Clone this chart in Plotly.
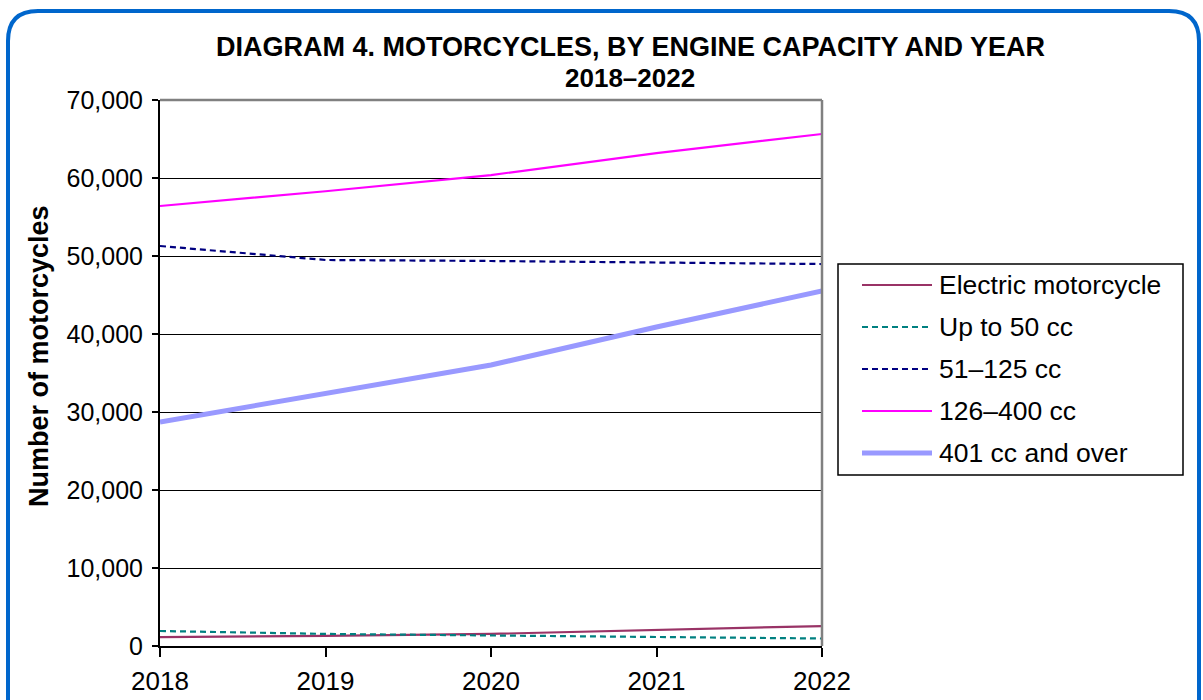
import plotly.graph_objects as go

years = [2018, 2019, 2020, 2021, 2022]
electric = [1150, 1300, 1550, 2050, 2560]
up_to_50 = [1920, 1550, 1350, 1150, 960]
cc_51_125 = [51280, 49490, 49360, 49200, 48970]
cc_126_400 = [56410, 58300, 60380, 63200, 65640]
cc_401_plus = [28720, 32300, 36030, 40900, 45510]

series_names = ["Electric motorcycle", "Up to 50 cc", "51\u2013125 cc", "126\u2013400 cc", "401 cc and over"]
series_values = [electric, up_to_50, cc_51_125, cc_126_400, cc_401_plus]
colors = ["#993366", "#008080", "#000080", "#FF00FF", "#9999FF"]
widths = [2.2, 2.2, 2.2, 2.2, 5]
dashes = ["solid", "6px,4px", "6px,4px", "solid", "solid"]

W, H = 1203, 700
L, R, T, B = 160, 822, 100, 646
FONT = "Liberation Sans, Arial, sans-serif"


def px(x):
    return (x - L) / (R - L)


def py(y):
    return (B - y) / (B - T)


fig = go.Figure()
for name, vals, c, w, d in zip(series_names, series_values, colors, widths, dashes):
    fig.add_trace(go.Scatter(x=years, y=vals, mode="lines", name=name,
                             line=dict(color=c, width=w, dash=d),
                             showlegend=False, hoverinfo="x+y+name"))

shapes = []
shapes.append(dict(type="line", xref="paper", yref="paper", x0=0, x1=1, y0=1, y1=1,
                   line=dict(color="#808080", width=2.5), layer="above"))
shapes.append(dict(type="line", xref="paper", yref="paper", x0=1, x1=1, y0=0, y1=1,
                   line=dict(color="#808080", width=2.5), layer="above"))

x0, y0, x1, y1, r = 8, 11, 1199, 740, 30
path = (f"M {px(x0)},{py(y0 + r)} "
        f"Q {px(x0)},{py(y0)} {px(x0 + r)},{py(y0)} "
        f"L {px(x1 - r)},{py(y0)} "
        f"Q {px(x1)},{py(y0)} {px(x1)},{py(y0 + r)} "
        f"L {px(x1)},{py(y1)} L {px(x0)},{py(y1)} Z")
shapes.append(dict(type="path", xref="paper", yref="paper", path=path,
                   line=dict(color="#0066CC", width=4), layer="above"))

lx0, lx1, ly0, ly1 = 838, 1183, 264, 475
shapes.append(dict(type="rect", xref="paper", yref="paper",
                   x0=px(lx0), x1=px(lx1), y0=py(ly1), y1=py(ly0),
                   line=dict(color="#000000", width=1.5), fillcolor="white", layer="above"))
annotations = []
item_y = [285, 327, 369, 411, 453]
for name, c, w, d, yy in zip(series_names, colors, widths, dashes, item_y):
    shapes.append(dict(type="line", xref="paper", yref="paper",
                       x0=px(862), x1=px(932), y0=py(yy), y1=py(yy),
                       line=dict(color=c, width=w, dash=d), layer="above"))
    annotations.append(dict(xref="paper", yref="paper", x=px(937), y=py(yy),
                            text=name, showarrow=False, xanchor="left", yanchor="middle",
                            font=dict(family=FONT, size=26.5, color="black")))

annotations.append(dict(xref="paper", yref="paper", x=px(630), y=py(47),
                        text="<b>DIAGRAM 4. MOTORCYCLES, BY ENGINE CAPACITY AND YEAR</b>",
                        showarrow=False, xanchor="center", yanchor="middle",
                        font=dict(family=FONT, size=27, color="black")))
annotations.append(dict(xref="paper", yref="paper", x=px(630), y=py(78),
                        text="<b>2018\u20132022</b>",
                        showarrow=False, xanchor="center", yanchor="middle",
                        font=dict(family=FONT, size=26, color="black")))
annotations.append(dict(xref="paper", yref="paper", x=px(39), y=py(356),
                        text="<b>Number of motorcycles</b>", textangle=-90,
                        showarrow=False, xanchor="center", yanchor="middle",
                        font=dict(family=FONT, size=27, color="black")))

fig.update_layout(
    width=W, height=H,
    margin=dict(l=L, r=W - R, t=T, b=H - B, pad=0),
    paper_bgcolor="white", plot_bgcolor="white",
    shapes=shapes, annotations=annotations,
    font=dict(family=FONT, color="black"),
    xaxis=dict(range=[2018, 2022], tickvals=years, ticktext=[str(y) for y in years],
               automargin=False,
               showgrid=False, zeroline=False, showline=True, linecolor="black", linewidth=2,
               ticks="outside", ticklen=9, tickwidth=2, tickcolor="black",
               ticklabelstandoff=2,
               tickfont=dict(size=26, family=FONT, color="black")),
    yaxis=dict(range=[0, 70000], tickvals=list(range(0, 70001, 10000)), tickformat=",d",
               automargin=False,
               showgrid=True, gridcolor="black", gridwidth=1, zeroline=False,
               showline=True, linecolor="black", linewidth=2,
               ticks="outside", ticklen=6, tickwidth=2, tickcolor="black",
               ticklabelstandoff=4,
               tickfont=dict(size=25, family=FONT, color="black")),
)

fig.write_html("out.html", config={"displayModeBar": False},
               post_script="document.body.style.margin='0';document.body.style.padding='0';document.body.style.overflow='hidden';")
